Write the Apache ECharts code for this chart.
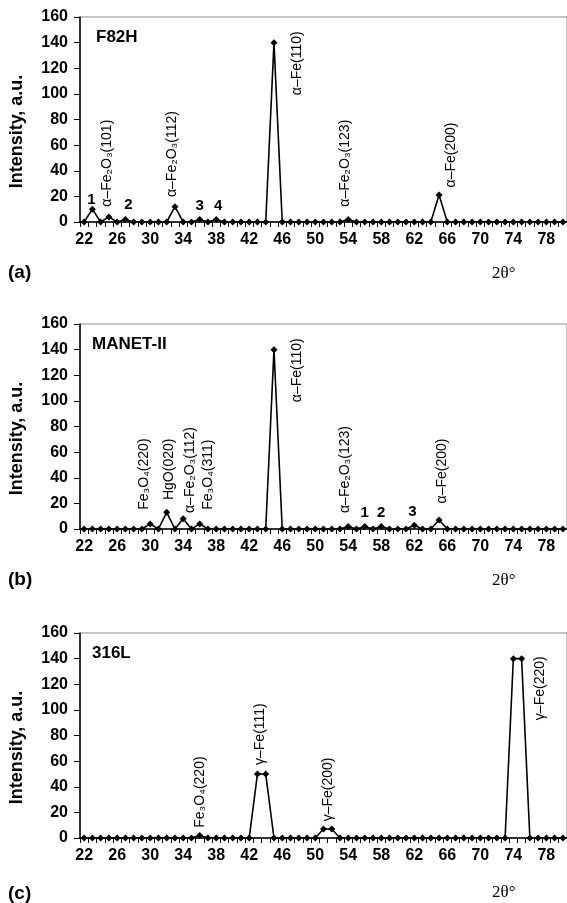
<!DOCTYPE html>
<html>
<head>
<meta charset="utf-8">
<script src="https://cdn.jsdelivr.net/npm/echarts@6/dist/echarts.min.js"></script>
<style>
html, body { margin: 0; padding: 0; background: #fff; }
#chart-container { width: 567px; height: 903px; }
</style>
</head>
<body>
<div id="chart-container"></div>
<script>
// 2-theta categories
const categories = ['22', '23', '24', '25', '26', '27', '28', '29', '30', '31', '32', '33', '34', '35', '36', '37', '38', '39', '40',
    '41', '42', '43', '44', '45', '46', '47', '48', '49', '50', '51', '52', '53', '54', '55', '56', '57', '58', '59', '60',
    '61', '62', '63', '64', '65', '66', '67', '68', '69', '70', '71', '72', '73', '74', '75', '76', '77', '78', '79', '80'];

// intensity, a.u.
const f82h = [0, 10, 0, 4, 0, 2, 0, 0, 0, 0, 0, 12, 0, 0, 2, 0, 2, 0, 0,
    0, 0, 0, 0, 140, 0, 0, 0, 0, 0, 0, 0, 0, 2, 0, 0, 0, 0, 0, 0,
    0, 0, 0, 0, 21, 0, 0, 0, 0, 0, 0, 0, 0, 0, 0, 0, 0, 0, 0, 0];
const manet = [0, 0, 0, 0, 0, 0, 0, 0, 4, 0, 13, 0, 8, 0, 4, 0, 0, 0, 0,
    0, 0, 0, 0, 140, 0, 0, 0, 0, 0, 0, 0, 0, 2, 0, 2, 0, 2, 0, 0,
    0, 3, 0, 0, 7, 0, 0, 0, 0, 0, 0, 0, 0, 0, 0, 0, 0, 0, 0, 0];
const ss316 = [0, 0, 0, 0, 0, 0, 0, 0, 0, 0, 0, 0, 0, 0, 2, 0, 0, 0, 0,
    0, 0, 50, 50, 0, 0, 0, 0, 0, 0, 7, 7, 0, 0, 0, 0, 0, 0, 0, 0,
    0, 0, 0, 0, 0, 0, 0, 0, 0, 0, 0, 0, 0, 140, 140, 0, 0, 0, 0, 0];

const panelNames = ['F82H', 'MANET-II', '316L'];
const panelTags = ['(a)', '(b)', '(c)'];

// phase labels: [category, text]
const phasesA = [['25', 'α–Fe₂O₃(101)'], ['33', 'α–Fe₂O₃(112)'], ['45', 'α–Fe(110)'], ['54', 'α–Fe₂O₃(123)'], ['65', 'α–Fe(200)']];
const phasesB = [['30', 'Fe₃O₄(220)'], ['32', 'HgO(020)'], ['34', 'α–Fe₂O₃(112)'], ['36', 'Fe₃O₄(311)'], ['45', 'α–Fe(110)'], ['54', 'α–Fe₂O₃(123)'], ['65', 'α–Fe(200)']];
const phasesC = [['36', 'Fe₃O₄(220)'], ['43', 'γ–Fe(111)'], ['51', 'γ–Fe(200)'], ['75', 'γ–Fe(220)']];
// numbered small peaks: [category, text]
const numsA = [['23', '1'], ['27', '2'], ['36', '3'], ['38', '4']];
const numsB = [['56', '1'], ['58', '2'], ['62', '3']];
const numsC = [];

// label placement: [anchor height in a.u., x shift px]
const phasePlace = [
    [[12, -2], [19.5, -3], [99, 23], [12, -3], [27, 12]],
    [[15, -6], [22.6, 2], [12.5, 7], [15, 8], [99, 23], [12.5, -3], [20, 3]],
    [[8, 0], [57, 3], [13, 5], [92, 19]]
];
const numPlace = [
    [[17, -1], [13, 3], [12.5, 0], [12.5, 2]],
    [[12.5, 0], [12.5, 0], [13, -2]],
    []
];

const seriesData = [f82h, manet, ss316];
const phaseSets = [phasesA, phasesB, phasesC];
const numSets = [numsA, numsB, numsC];

const gridTops = [17, 324, 633];
const titleLeft = [96, 92, 92];
const tagY = [273, 580, 894];
const thetaY = [274, 581, 893];

let dom = document.getElementById('chart-container');
let myChart = echarts.init(dom, null, { renderer: 'canvas' });

const FONT = 'Liberation Sans, Arial, sans-serif';

let grids = [], xAxes = [], yAxes = [], series = [], titles = [], graphics = [];

for (let i = 0; i < 3; i++) {
    grids.push({
        left: 80, top: gridTops[i], width: 487, height: 205,
        show: true, borderColor: '#8c8c8c', borderWidth: 1
    });
    xAxes.push({
        type: 'category', gridIndex: i, data: categories, boundaryGap: true,
        axisLine: { lineStyle: { color: '#000', width: 1.5 } },
        axisTick: { show: true, interval: 0, length: 5, lineStyle: { color: '#000' } },
        axisLabel: { interval: 3, color: '#000', fontFamily: FONT, fontWeight: 'bold', fontSize: 16, margin: 10 },
        splitLine: { show: false }
    });
    yAxes.push({
        type: 'value', gridIndex: i, min: 0, max: 160, interval: 20,
        name: 'Intensity, a.u.', nameLocation: 'middle', nameGap: 54, nameRotate: 90,
        nameTextStyle: { color: '#000', fontFamily: FONT, fontWeight: 'bold', fontSize: 18, padding: [0, 24, 0, 0] },
        axisLine: { show: true, lineStyle: { color: '#000', width: 1.5 } },
        axisTick: { show: true, length: 6, lineStyle: { color: '#000' } },
        axisLabel: { color: '#000', fontFamily: FONT, fontWeight: 'bold', fontSize: 16, margin: 12 },
        splitLine: { show: false }
    });

    let marks = [];
    phaseSets[i].forEach(function (p, k) {
        marks.push({
            name: p[1], coord: [p[0], phasePlace[i][k][0]],
            label: {
                rotate: 90, align: 'left', verticalAlign: 'middle',
                // offset is in the rotated frame: second value moves it sideways
                offset: [0, phasePlace[i][k][1]],
                fontSize: 14, fontFamily: FONT, color: '#000'
            }
        });
    });
    numSets[i].forEach(function (p, k) {
        marks.push({
            name: p[1], coord: [p[0], numPlace[i][k][0]],
            label: {
                rotate: 0, align: 'center', verticalAlign: 'middle',
                offset: [numPlace[i][k][1], 0],
                fontSize: 15, fontWeight: 'bold', fontFamily: FONT, color: '#000'
            }
        });
    });

    series.push({
        type: 'line', xAxisIndex: i, yAxisIndex: i,
        data: seriesData[i],
        symbol: 'diamond', symbolSize: 7, showSymbol: true, showAllSymbol: true,
        lineStyle: { color: '#000', width: 1.6 },
        itemStyle: { color: '#000' },
        markPoint: {
            symbol: 'circle', symbolSize: 0, silent: true,
            label: { show: true, position: 'inside', formatter: '{b}' },
            data: marks
        }
    });

    titles.push({
        text: panelNames[i], left: titleLeft[i], top: gridTops[i] + 12, padding: 0,
        textStyle: { color: '#000', fontFamily: FONT, fontWeight: 'bold', fontSize: 17 }
    });

    graphics.push({
        type: 'text', left: 8, top: tagY[i] - 10,
        style: { text: panelTags[i], fill: '#000', font: 'bold 19px ' + FONT }
    });
    graphics.push({
        type: 'text', left: 492, top: thetaY[i] - 9,
        style: { text: '2θ°', fill: '#000', font: '17px Liberation Serif, Times New Roman, serif' }
    });
}

let option = {
    animation: false,
    backgroundColor: '#fff',
    title: titles,
    grid: grids,
    xAxis: xAxes,
    yAxis: yAxes,
    series: series,
    graphic: graphics
};

myChart.setOption(option);
window.addEventListener('resize', myChart.resize);
</script>
</body>
</html>
